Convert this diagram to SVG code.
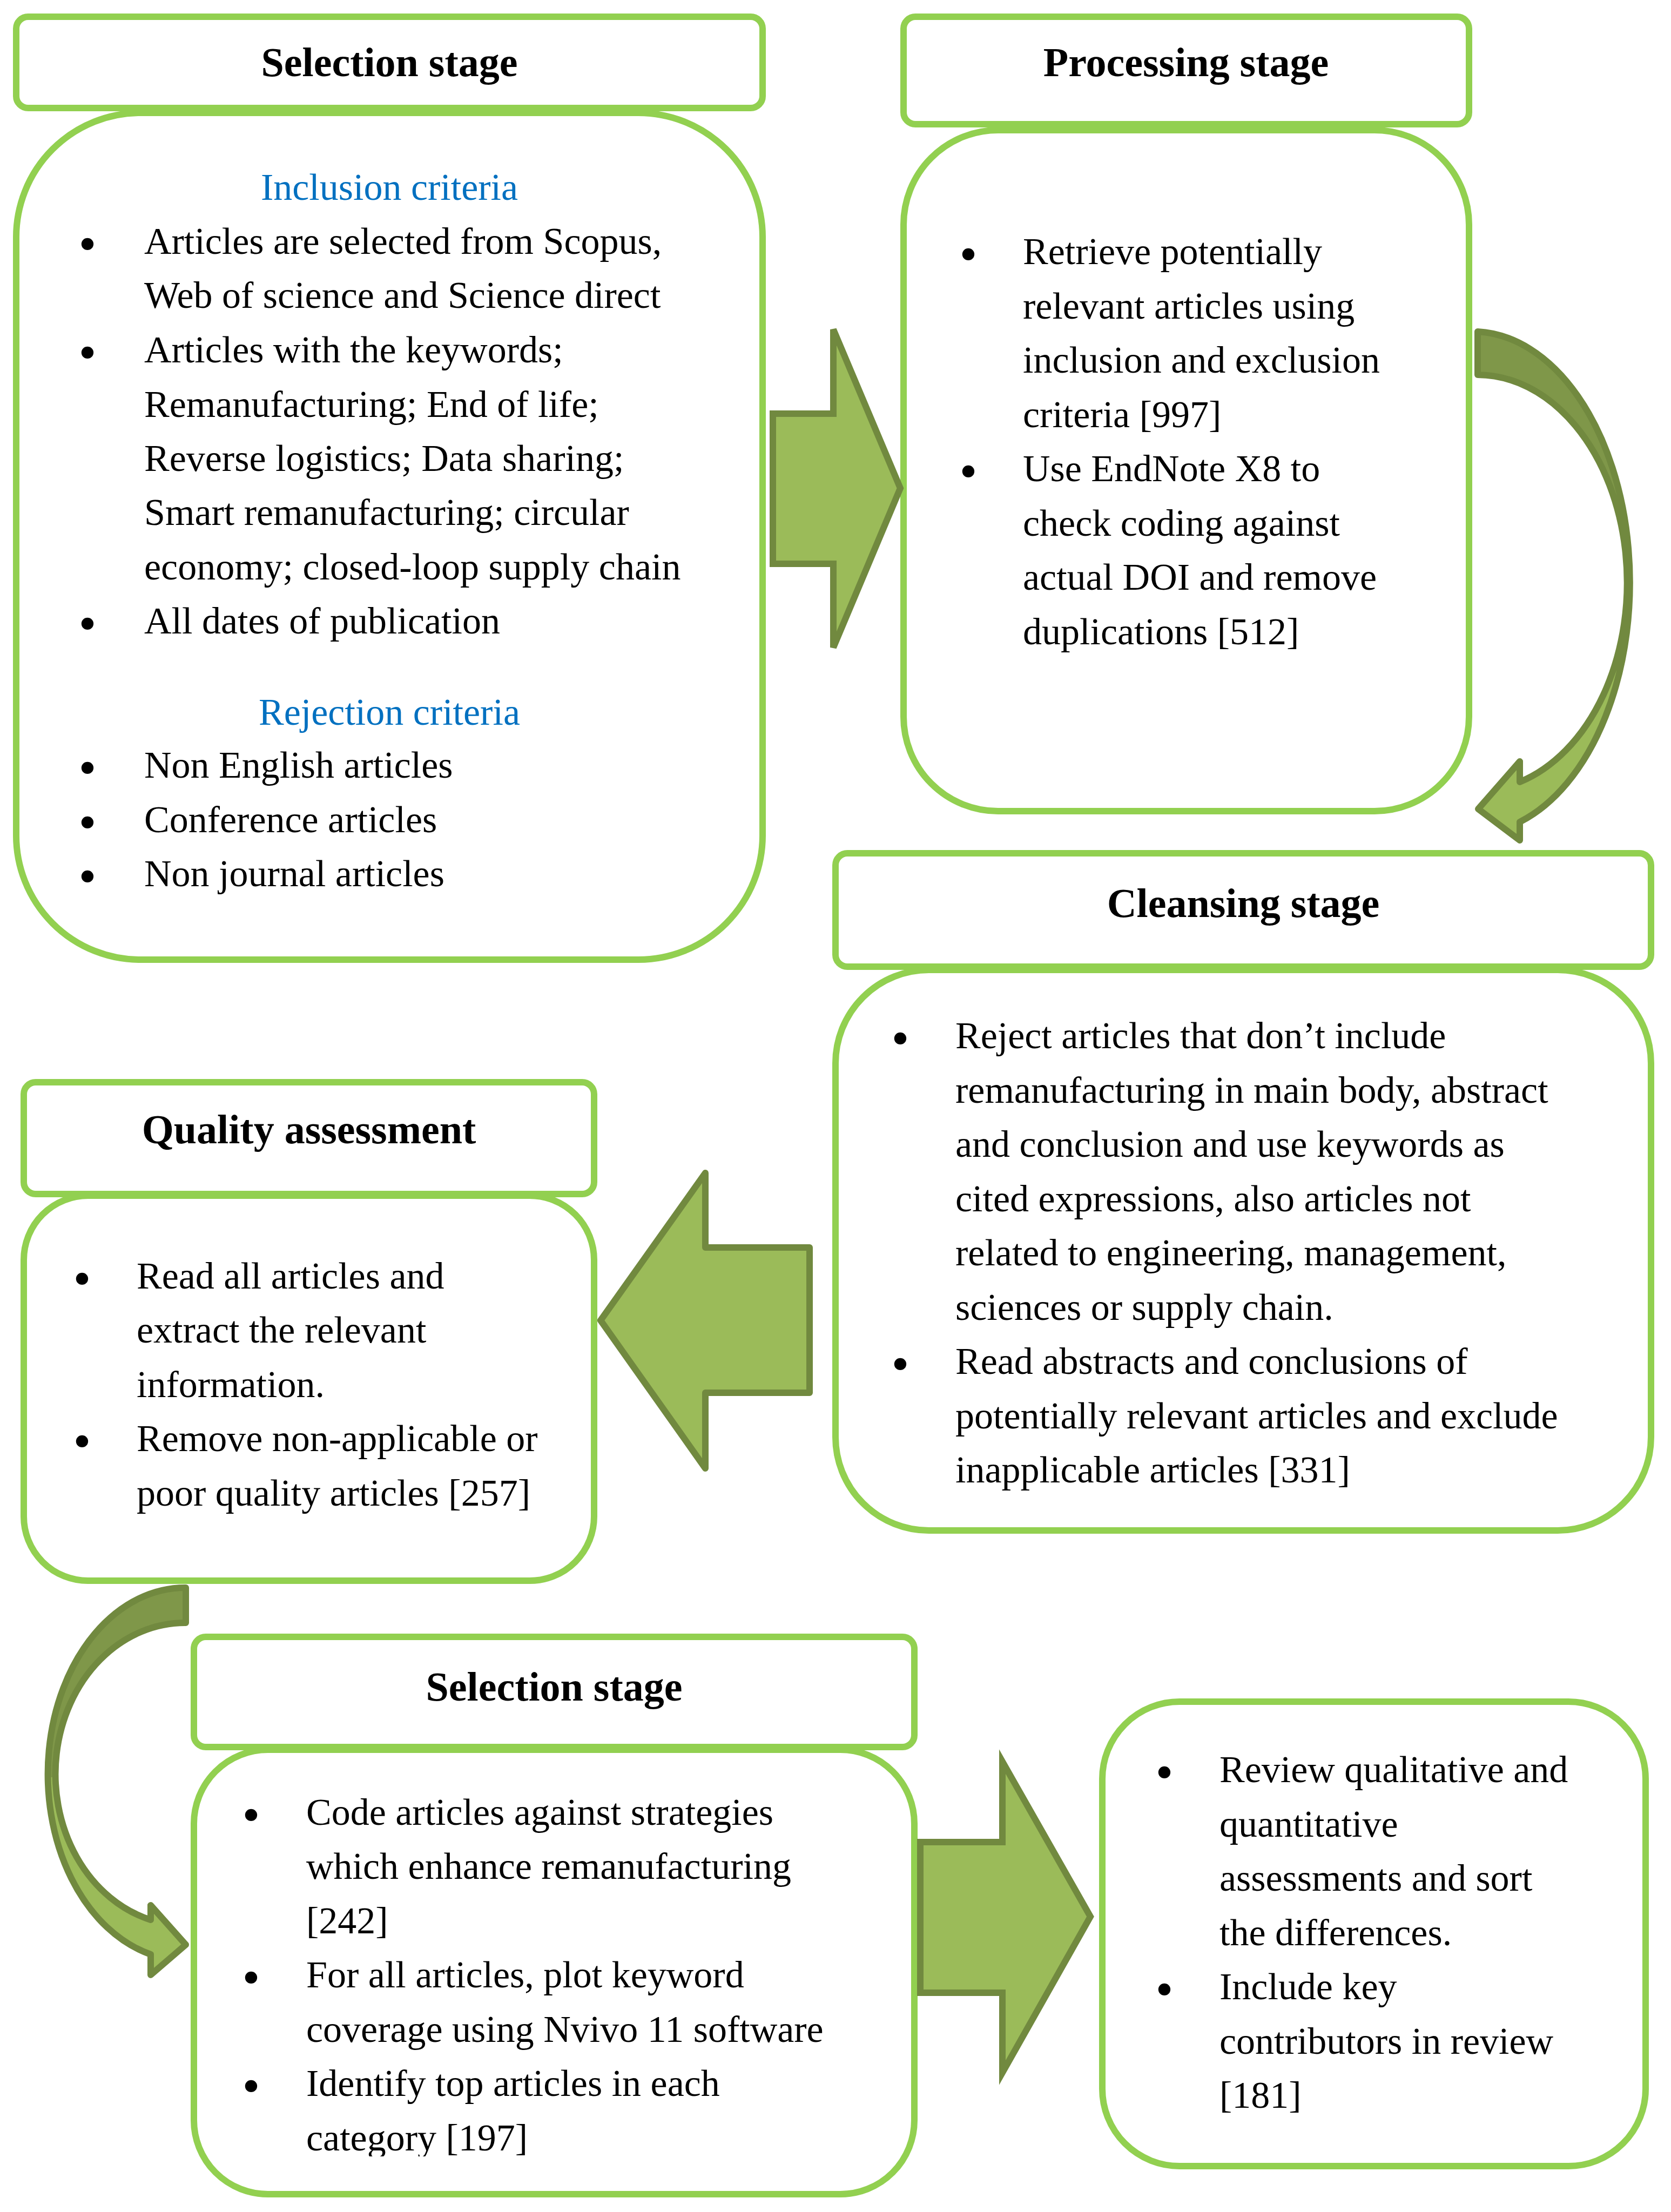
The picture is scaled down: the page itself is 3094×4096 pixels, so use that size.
<svg xmlns="http://www.w3.org/2000/svg" width="3094" height="4096" viewBox="0 0 3094 4096">
<style>
.box{fill:#fff;stroke:#92D050;stroke-width:12}
.t{font-family:"Liberation Serif","Times New Roman",serif;font-size:70px;fill:#000}
.h{font-family:"Liberation Serif","Times New Roman",serif;font-size:76px;font-weight:bold;fill:#000;text-anchor:middle}
.blue{fill:#0070C0;text-anchor:middle}
.b{text-anchor:middle;font-size:94px}
.arr{fill:#9BBB59;stroke:#71893F;stroke-width:12}
.carr{fill:url(#fold);stroke:#71893F;stroke-width:12;stroke-linejoin:round}
</style>
<defs>
<linearGradient id="fold" x1="0" y1="0" x2="0" y2="1">
<stop offset="0" stop-color="#7F9749"/>
<stop offset="0.49" stop-color="#7F9749"/>
<stop offset="0.49" stop-color="#9BBB59"/>
<stop offset="1" stop-color="#9BBB59"/>
</linearGradient>
<clipPath id="clipSel2"><rect x="359" y="3240" width="1334" height="753"/></clipPath>
</defs>
<rect width="3094" height="4096" fill="#fff"/>

<g id="selection1">
<rect class="box" x="30" y="31" width="1382" height="169" rx="22"/>
<rect class="box" x="30" y="209" width="1382" height="1568" rx="230"/>
<text class="h" x="721" y="141">Selection stage</text>
<text class="t blue" x="721" y="370">Inclusion criteria</text>
<text class="t b" x="162" y="483">•</text>
<text class="t" x="267" y="470">Articles are selected from Scopus,</text>
<text class="t" x="267" y="570">Web of science and Science direct</text>
<text class="t b" x="162" y="684">•</text>
<text class="t" x="267" y="671">Articles with the keywords;</text>
<text class="t" x="267" y="772">Remanufacturing; End of life;</text>
<text class="t" x="267" y="872">Reverse logistics; Data sharing;</text>
<text class="t" x="267" y="972">Smart remanufacturing; circular</text>
<text class="t" x="267" y="1073">economy; closed-loop supply chain</text>
<text class="t b" x="162" y="1186">•</text>
<text class="t" x="267" y="1173">All dates of publication</text>
<text class="t blue" x="721" y="1342">Rejection criteria</text>
<text class="t b" x="162" y="1453">•</text>
<text class="t" x="267" y="1440">Non English articles</text>
<text class="t b" x="162" y="1554">•</text>
<text class="t" x="267" y="1541">Conference articles</text>
<text class="t b" x="162" y="1654">•</text>
<text class="t" x="267" y="1641">Non journal articles</text>
</g>

<g id="processing">
<rect class="box" x="1673" y="31" width="1047" height="199" rx="22"/>
<rect class="box" x="1673" y="241" width="1047" height="1261" rx="175"/>
<text class="h" x="2196" y="141">Processing stage</text>
<text class="t b" x="1793" y="502">•</text>
<text class="t" x="1894" y="489">Retrieve potentially</text>
<text class="t" x="1894" y="590">relevant articles using</text>
<text class="t" x="1894" y="690">inclusion and exclusion</text>
<text class="t" x="1894" y="791">criteria [997]</text>
<text class="t b" x="1793" y="904">•</text>
<text class="t" x="1894" y="891">Use EndNote X8 to</text>
<text class="t" x="1894" y="992">check coding against</text>
<text class="t" x="1894" y="1092">actual DOI and remove</text>
<text class="t" x="1894" y="1193">duplications [512]</text>
</g>

<g id="cleansing">
<rect class="box" x="1547" y="1580" width="1510" height="210" rx="22"/>
<rect class="box" x="1547" y="1796" width="1510" height="1038" rx="173"/>
<text class="h" x="2302" y="1698">Cleansing stage</text>
<text class="t b" x="1667" y="1954">•</text>
<text class="t" x="1769" y="1941">Reject articles that don’t include</text>
<text class="t" x="1769" y="2042">remanufacturing in main body, abstract</text>
<text class="t" x="1769" y="2142">and conclusion and use keywords as</text>
<text class="t" x="1769" y="2243">cited expressions, also articles not</text>
<text class="t" x="1769" y="2343">related to engineering, management,</text>
<text class="t" x="1769" y="2444">sciences or supply chain.</text>
<text class="t b" x="1667" y="2557">•</text>
<text class="t" x="1769" y="2544">Read abstracts and conclusions of</text>
<text class="t" x="1769" y="2645">potentially relevant articles and exclude</text>
<text class="t" x="1769" y="2745">inapplicable articles [331]</text>
</g>

<g id="quality">
<rect class="box" x="44" y="2004" width="1056" height="207" rx="22"/>
<rect class="box" x="44" y="2214" width="1056" height="713" rx="119"/>
<text class="h" x="572" y="2117">Quality assessment</text>
<text class="t b" x="152" y="2399">•</text>
<text class="t" x="253" y="2386">Read all articles and</text>
<text class="t" x="253" y="2486">extract the relevant</text>
<text class="t" x="253" y="2587">information.</text>
<text class="t b" x="152" y="2700">•</text>
<text class="t" x="253" y="2687">Remove non-applicable or</text>
<text class="t" x="253" y="2788">poor quality articles [257]</text>
</g>

<g id="selection2">
<rect class="box" x="359" y="3031" width="1334" height="204" rx="22"/>
<rect class="box" x="359" y="3240" width="1334" height="823" rx="137"/>
<text class="h" x="1026" y="3149">Selection stage</text>
<g clip-path="url(#clipSel2)">
<text class="t b" x="465" y="3392">•</text>
<text class="t" x="567" y="3379">Code articles against strategies</text>
<text class="t" x="567" y="3479">which enhance remanufacturing</text>
<text class="t" x="567" y="3580">[242]</text>
<text class="t b" x="465" y="3693">•</text>
<text class="t" x="567" y="3680">For all articles, plot keyword</text>
<text class="t" x="567" y="3781">coverage using Nvivo 11 software</text>
<text class="t b" x="465" y="3894">•</text>
<text class="t" x="567" y="3881">Identify top articles in each</text>
<text class="t" x="567" y="3982">category [197]</text>
</g>
</g>

<g id="final">
<rect class="box" x="2041" y="3151" width="1006" height="860" rx="143"/>
<text class="t b" x="2156" y="3313">•</text>
<text class="t" x="2258" y="3300">Review qualitative and</text>
<text class="t" x="2258" y="3401">quantitative</text>
<text class="t" x="2258" y="3501">assessments and sort</text>
<text class="t" x="2258" y="3602">the differences.</text>
<text class="t b" x="2156" y="3715">•</text>
<text class="t" x="2258" y="3702">Include key</text>
<text class="t" x="2258" y="3803">contributors in review</text>
<text class="t" x="2258" y="3903">[181]</text>
</g>

<g id="connectors">
<path class="arr" d="M1431,766 H1543 V610 L1667,904 L1543,1199 V1044 H1431 Z"/>
<path class="carr" d="M2736,614 A292,465 0 0 1 2814,1522 L2814,1556 L2737,1498 L2814,1410 L2814,1448 A278,385 0 0 0 2736,694 Z"/>
<path class="arr" stroke-linejoin="round" d="M1112,2445 L1306,2172 V2310 H1499 V2579 H1306 V2719 Z"/>
<path class="carr" d="M344,2940 A254,345 0 0 0 279,3619 L279,3657 L344,3601 L279,3528 L279,3555 A240,280 0 0 1 344,3005 Z"/>
<path class="arr" d="M1704,3411 H1856 V3262 L2019,3549 L1856,3838 V3690 H1704 Z"/>
</g>
</svg>
